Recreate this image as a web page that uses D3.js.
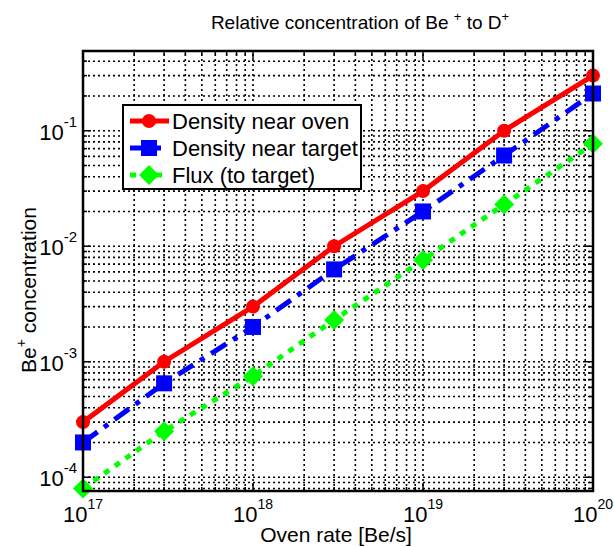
<!DOCTYPE html>
<html>
<head>
<meta charset="utf-8">
<script src="https://cdn.jsdelivr.net/npm/d3@7"></script>
<style>
body{margin:0;background:#fff;}
text{font-family:"Liberation Sans",Arial,sans-serif;fill:#000;}
</style>
</head>
<body>
<svg id="chart"></svg>
<script>
var w=614;
var h=547;
var margin={left:83,right:21,top:51,bottom:56};

// data
var ovenRate=[1e17,3e17,1e18,3e18,1e19,3e19,1e20];
var nearOven=[3e-4,1e-3,3e-3,1e-2,3e-2,1e-1,3e-1];
var nearTarget=[2e-4,6.5e-4,2e-3,6.3e-3,2e-2,6.1e-2,2.1e-1];
var flux=[8e-5,2.5e-4,7.5e-4,2.3e-3,7.6e-3,2.3e-2,7.7e-2];
var seriesNames=["Density near oven","Density near target","Flux (to target)"];
var xTicks=[17,18,19,20];
var yTicks=[-4,-3,-2,-1];

var series=[
  {name:seriesNames[0],values:nearOven,color:"#ff0000",dash:null,marker:"circle"},
  {name:seriesNames[1],values:nearTarget,color:"#0000ff",dash:"18,8,5,8",marker:"square"},
  {name:seriesNames[2],values:flux,color:"#00ff00",dash:"6,7",marker:"diamond"}
];

var svg=d3.select("#chart").attr("width",w).attr("height",h);

var xScale=d3.scaleLog().domain([1e17,1e20]).range([margin.left,w-margin.right]);
var yScale=d3.scaleLog().domain([7.6e-5,0.49]).range([h-margin.bottom,margin.top]);

var x0=xScale.range()[0],x1=xScale.range()[1];
var y0=yScale.range()[0],y1=yScale.range()[1];

// log grid values
function logGrid(lo,hi){
  var out=[];
  for(var d=Math.floor(Math.log10(lo));d<=Math.ceil(Math.log10(hi));d++){
    for(var k=1;k<10;k++){
      var v=k*Math.pow(10,d);
      if(v>=lo*0.999&&v<=hi*1.001)out.push(v);
    }
  }
  return out;
}
var xGrid=logGrid(1e17,1e20);
var yGrid=logGrid(7.6e-5,0.49);

var grid=svg.append("g");
grid.selectAll(".xg").data(xGrid).enter().append("line")
  .attr("x1",function(d){return xScale(d);}).attr("x2",function(d){return xScale(d);})
  .attr("y1",y0).attr("y2",y1)
  .attr("stroke","#000").attr("stroke-width",1.6).attr("stroke-dasharray","2,3");
grid.selectAll(".yg").data(yGrid).enter().append("line")
  .attr("y1",function(d){return yScale(d);}).attr("y2",function(d){return yScale(d);})
  .attr("x1",x0).attr("x2",x1)
  .attr("stroke","#000").attr("stroke-width",1.6).attr("stroke-dasharray","2,3");

// inward ticks
var ticks=svg.append("g").attr("stroke","#000").attr("stroke-width",1.5);
xGrid.forEach(function(v){
  var len=Math.abs(Math.log10(v)%1)<1e-6?8:4;
  ticks.append("line").attr("x1",xScale(v)).attr("x2",xScale(v)).attr("y1",y0).attr("y2",y0-len);
  ticks.append("line").attr("x1",xScale(v)).attr("x2",xScale(v)).attr("y1",y1).attr("y2",y1+len);
});
yGrid.forEach(function(v){
  var len=Math.abs(Math.log10(v)-Math.round(Math.log10(v)))<1e-6?8:4;
  ticks.append("line").attr("y1",yScale(v)).attr("y2",yScale(v)).attr("x1",x0).attr("x2",x0+len);
  ticks.append("line").attr("y1",yScale(v)).attr("y2",yScale(v)).attr("x1",x1).attr("x2",x1-len);
});

// lines
var line=d3.line()
  .x(function(d,i){return xScale(ovenRate[i]);})
  .y(function(d){return yScale(d);});

function marker(g,type,cx,cy,color){
  if(type=="circle"){
    g.append("circle").attr("cx",cx).attr("cy",cy).attr("r",7).attr("fill",color);
  }else if(type=="square"){
    g.append("rect").attr("x",cx-8).attr("y",cy-8).attr("width",16).attr("height",16).attr("fill",color);
  }else{
    g.append("path").attr("d","M"+cx+","+(cy-10)+"L"+(cx+10)+","+cy+"L"+cx+","+(cy+10)+"L"+(cx-10)+","+cy+"Z").attr("fill",color);
  }
}

var plot=svg.append("g");
series.slice().reverse().forEach(function(s){
  plot.append("path").datum(s.values)
    .attr("d",line)
    .attr("fill","none")
    .attr("stroke",s.color)
    .attr("stroke-width",5)
    .attr("stroke-dasharray",s.dash);
  s.values.forEach(function(v,i){
    marker(plot,s.marker,xScale(ovenRate[i]),yScale(v),s.color);
  });
});

// axes box
svg.append("rect").attr("x",x0).attr("y",y1).attr("width",x1-x0).attr("height",y0-y1)
  .attr("fill","none").attr("stroke","#000").attr("stroke-width",2.5);

// tick labels (whole label centred on the tick)
xTicks.forEach(function(e){
  var t=svg.append("text").attr("x",xScale(Math.pow(10,e))).attr("y",y0+31)
    .attr("text-anchor","middle").attr("font-size",22);
  t.append("tspan").text("10");
  t.append("tspan").attr("dy",-13).attr("font-size",14).text(e);
});
yTicks.forEach(function(e){
  var t=svg.append("text").attr("x",x0-6).attr("y",yScale(Math.pow(10,e))+9)
    .attr("text-anchor","end").attr("font-size",22);
  t.append("tspan").text("10");
  t.append("tspan").attr("dy",-13).attr("font-size",15).text(e);
});

// legend
var leg=svg.append("g");
leg.append("rect").attr("x",123).attr("y",105).attr("width",238).attr("height",84)
  .attr("fill","#fff").attr("stroke","#000").attr("stroke-width",2);
series.forEach(function(s,i){
  var ly=121+i*27;
  leg.append("line").attr("x1",130).attr("x2",169).attr("y1",ly).attr("y2",ly)
    .attr("stroke",s.color).attr("stroke-width",5).attr("stroke-dasharray",s.dash);
  marker(leg,s.marker,149,ly,s.color);
  leg.append("text").attr("x",172).attr("y",ly+8).attr("font-size",22).text(s.name);
});

// title
var title=svg.append("text").attr("x",360).attr("y",29).attr("text-anchor","middle").attr("font-size",19);
title.append("tspan").text("Relative concentration of Be ");
title.append("tspan").attr("dy",-8).attr("font-size",13).text("+");
title.append("tspan").attr("dy",8).text(" to D");
title.append("tspan").attr("dy",-8).attr("font-size",13).text("+");

// axis labels
svg.append("text").attr("x",336).attr("y",h-5).attr("text-anchor","middle")
  .attr("font-size",21).text("Oven rate [Be/s]");
var yl=svg.append("text").attr("transform","translate(36,290) rotate(-90)")
  .attr("text-anchor","middle").attr("font-size",21);
yl.append("tspan").text("Be");
yl.append("tspan").attr("dy",-10).attr("font-size",14).text("+");
yl.append("tspan").attr("dy",10).text(" concentration");
</script>
</body>
</html>
